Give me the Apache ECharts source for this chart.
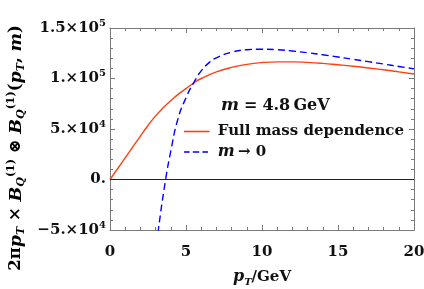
<!DOCTYPE html>
<html><head><meta charset="utf-8">
<script src="https://cdn.jsdelivr.net/npm/echarts@6/dist/echarts.min.js"></script>
<style>html,body{margin:0;padding:0;background:#fff}#c{width:424px;height:289px}</style>
</head><body><div id="c"></div>
<script>
const fullMassX = [0,1,2,2.5,3,3.5,4,4.5,5,5.5,6,7,8,9,10,11,12,13,14,15,16,17,18,19,20];
const fullMassY = [0,21500,43000,53500,63000,71000,78000,84500,90000,95500,100000,106500,111000,114000,115800,116500,116500,116000,115000,113600,112100,110400,108600,106600,104500];
const masslessX = [3.0,3.18,3.66,4.0,4.45,5,5.55,6,6.58,7,8,9,10,11,12,13,14,15,16,17,18,19,20];
const masslessY = [-75000,-50000,0,28000,59000,81000,97000,107500,116500,120500,126000,128500,129000,128500,127200,125500,123500,121300,119000,116700,114300,111900,109500];
const yTicks = [-50000,0,50000,100000,150000];
const yTickMant = ['\u22125.','0.','5.','1.','1.5'];
const yTickExp = ['4','','4','5','5'];
const xTicks = [0,5,10,15,20];
const seriesNames = ['Full mass dependence','m \u2192 0'];

const SERIF = '"DejaVu Serif", serif';
const pair = (xs, ys) => xs.map((x,i)=>[x, ys[i]]);
const chart = echarts.init(document.getElementById('c'), null, {renderer:'canvas'});
const axisGray = '#7a7a7a';
function mkRich(fs, ss){
  return {
    b:{fontFamily:SERIF,fontWeight:'bold',fontSize:fs,color:'#111',lineHeight:fs+5},
    i:{fontFamily:SERIF,fontWeight:'bold',fontStyle:'italic',fontSize:fs+1,color:'#111',lineHeight:fs+5},
    s:{fontFamily:SERIF,fontWeight:'bold',fontSize:ss,color:'#111',verticalAlign:'top',lineHeight:ss},
    si:{fontFamily:SERIF,fontWeight:'bold',fontStyle:'italic',fontSize:ss,color:'#111',verticalAlign:'bottom',lineHeight:ss},
    su:{fontFamily:SERIF,fontWeight:'bold',fontSize:ss,color:'#111',verticalAlign:'top',lineHeight:ss}
  };
}
const richBase = mkRich(15,10);
const richTitle = mkRich(16.5,11);
const commonAxis = {
  axisLine:{show:true,onZero:false,lineStyle:{color:axisGray,width:1}},
  axisTick:{show:true,inside:true,length:5,lineStyle:{color:axisGray}},
  minorTick:{show:true,splitNumber:5,length:3,lineStyle:{color:axisGray}},
  splitLine:{show:false}
};
const solidIcon = 'path://M0,0H32V2H0Z';
const dashIcon = 'path://M0,0H7V2H0Z M11,0H19V2H11Z M23,0H30V2H23Z M32,0H32.01V2H32Z';
const option = {
  animation:false,
  backgroundColor:'#fff',
  grid:{left:110,right:10,top:28,bottom:59,outerBoundsMode:'none',containLabel:false},
  title:{text:'{i|m} {b|=} {b|4.8\u2009GeV}',left:221,top:95,padding:0,textStyle:{rich:mkRich(16,10)}},
  legend:{
    orient:'vertical',left:184,top:124,itemGap:5,itemWidth:32,itemHeight:1.6,padding:0,
    data:[{name:seriesNames[0],icon:solidIcon},{name:seriesNames[1],icon:dashIcon}],
    formatter:(n)=> n===seriesNames[0] ? '{b|Full mass dependence}' : '{i|m} {b|\u2192 0}',
    textStyle:{rich:richBase}
  },
  graphic:[{
    type:'text',x:16,y:148,rotation:Math.PI/2,
    style:{text:'{b|2\u03c0}{i|p}{si|T}{b| \u00d7 }{i|B}{si|Q}{su|(1)}{b| \u2297 }{i|B}{si|Q}{su|(1)}{b|(}{i|p}{si|T}{b|, }{i|m}{b|)}',
      rich:richTitle,align:'center',verticalAlign:'middle'}
  }],
  xAxis:[
    Object.assign({},commonAxis,{type:'value',min:0,max:20,interval:5,position:'bottom',
      axisLabel:{margin:12,formatter:(v)=> xTicks.includes(v)?'{b|'+v+'}':'',rich:richBase},
      name:'{i|p}{si|T}{b|/GeV}',nameLocation:'middle',nameGap:37,nameTextStyle:{rich:richBase}}),
    Object.assign({},commonAxis,{type:'value',min:0,max:20,interval:5,position:'top',axisLabel:{show:false}})
  ],
  yAxis:[
    Object.assign({},commonAxis,{type:'value',min:-50000,max:150000,interval:50000,position:'left',
      axisLabel:{margin:4,formatter:(v)=>{const k=yTicks.indexOf(v); if(k<0)return ''; return yTickExp[k]?'{b|'+yTickMant[k]+'\u00d710}{s|'+yTickExp[k]+'}':'{b|'+yTickMant[k]+'}';},rich:richBase}}),
    Object.assign({},commonAxis,{type:'value',min:-50000,max:150000,interval:50000,position:'right',axisLabel:{show:false}})
  ],
  series:[
    {name:seriesNames[0],type:'line',data:pair(fullMassX,fullMassY),smooth:0.5,showSymbol:false,symbol:'none',
     lineStyle:{color:'#ff4010',width:1.4},itemStyle:{color:'#ff4010'},clip:true,
     markLine:{silent:true,symbol:'none',label:{show:false},lineStyle:{color:'#222',width:1,type:'solid'},data:[{yAxis:0}]}},
    {name:seriesNames[1],type:'line',data:pair(masslessX,masslessY),smooth:0.5,showSymbol:false,symbol:'none',
     lineStyle:{color:'#0000ff',width:1.4,type:[7,4]},itemStyle:{color:'#0000ff'},clip:true}
  ]
};
chart.setOption(option);
</script></body></html>
